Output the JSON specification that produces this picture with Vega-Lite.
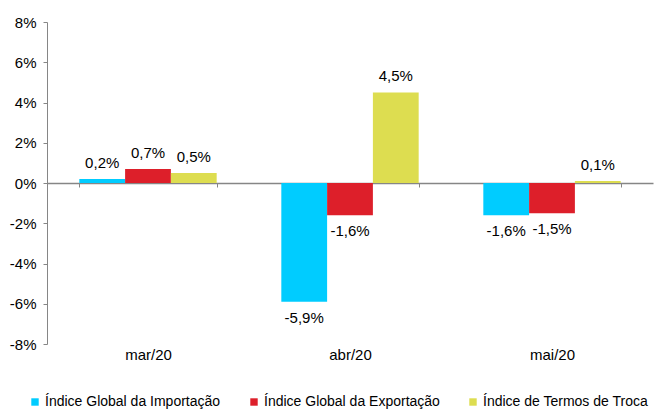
{
  "$schema": "https://vega.github.io/schema/vega-lite/v6.json",
  "width": 606,
  "height": 322,
  "autosize": {"type": "none"},
  "padding": {"left": 47, "top": 22, "right": 2, "bottom": 65},
  "background": "white",
  "config": {
    "view": {"stroke": null},
    "font": "Liberation Sans",
    "locale": {"number": {"decimal": ",", "thousands": ".", "grouping": [3], "currency": ["", ""], "minus": "-"}},
    "axis": {"labelFont": "Liberation Sans", "labelFontSize": 15, "labelColor": "#000000", "domainColor": "#868686", "tickColor": "#868686", "grid": false, "title": null}
  },
  "data": {
    "values": [
      {"mes": "mar/20", "serie": "Índice Global da Importação", "valor": 0.002},
      {"mes": "mar/20", "serie": "Índice Global da Exportação", "valor": 0.007},
      {"mes": "mar/20", "serie": "Índice de Termos de Troca", "valor": 0.005},
      {"mes": "abr/20", "serie": "Índice Global da Importação", "valor": -0.059},
      {"mes": "abr/20", "serie": "Índice Global da Exportação", "valor": -0.016},
      {"mes": "abr/20", "serie": "Índice de Termos de Troca", "valor": 0.045},
      {"mes": "mai/20", "serie": "Índice Global da Importação", "valor": -0.016},
      {"mes": "mai/20", "serie": "Índice Global da Exportação", "valor": -0.015},
      {"mes": "mai/20", "serie": "Índice de Termos de Troca", "valor": 0.001}
    ]
  },
  "encoding": {
    "x": {
      "field": "mes", "type": "nominal", "sort": ["mar/20", "abr/20", "mai/20"],
      "scale": {"paddingInner": 0.32, "paddingOuter": 0.16},
      "axis": {"labelAngle": 0, "offset": -161, "tickBand": "extent", "tickSize": 4, "labelPadding": 160, "domainWidth": 1.5}
    },
    "xOffset": {
      "field": "serie", "type": "nominal",
      "sort": ["Índice Global da Importação", "Índice Global da Exportação", "Índice de Termos de Troca"],
      "scale": {"paddingInner": 0, "paddingOuter": 0}
    },
    "y": {
      "field": "valor", "type": "quantitative",
      "scale": {"domain": [-0.08, 0.08], "nice": false, "zero": false},
      "axis": {"format": ".0%", "values": [-0.08, -0.06, -0.04, -0.02, 0, 0.02, 0.04, 0.06, 0.08], "tickSize": 4, "labelPadding": 7}
    }
  },
  "layer": [
    {
      "mark": {"type": "bar"},
      "encoding": {
        "color": {
          "field": "serie", "type": "nominal",
          "sort": ["Índice Global da Importação", "Índice Global da Exportação", "Índice de Termos de Troca"],
          "scale": {"domain": ["Índice Global da Importação", "Índice Global da Exportação", "Índice de Termos de Troca"], "range": ["#00CCFF", "#DD1F2A", "#DDDD50"]},
          "legend": {
            "orient": "none", "direction": "horizontal", "legendX": -19, "legendY": 373,
            "title": null, "symbolType": "square", "symbolSize": 55, "symbolStrokeWidth": 0,
            "labelFont": "Liberation Sans", "labelFontSize": 14, "labelColor": "#000000",
            "labelOffset": 3, "columnPadding": 26, "labelLimit": 0
          }
        }
      }
    },
    {
      "transform": [{"filter": "datum.valor >= 0"}],
      "mark": {"type": "text", "baseline": "alphabetic", "dy": -11, "fontSize": 15, "font": "Liberation Sans", "color": "#000000"},
      "encoding": {"text": {"field": "valor", "type": "quantitative", "format": ".1%"}}
    },
    {
      "transform": [{"filter": "datum.valor < 0"}],
      "mark": {"type": "text", "baseline": "top", "dy": 9, "fontSize": 15, "font": "Liberation Sans", "color": "#000000"},
      "encoding": {"text": {"field": "valor", "type": "quantitative", "format": ".1%"}}
    }
  ]
}
